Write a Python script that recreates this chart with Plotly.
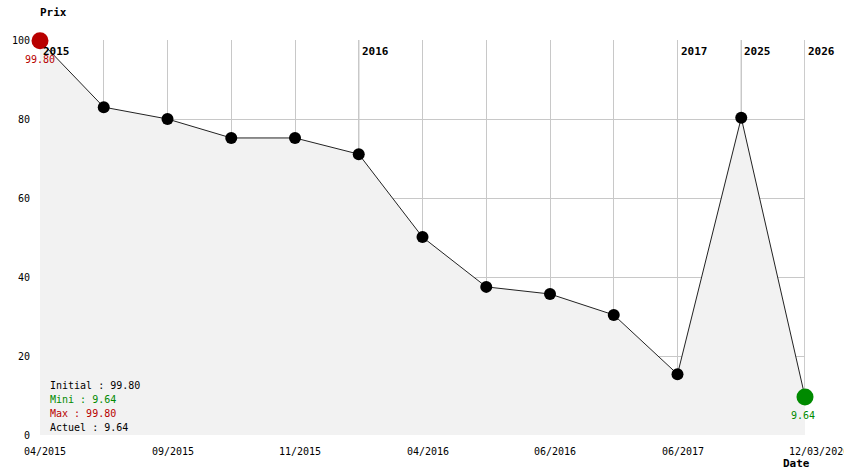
import plotly.graph_objects as go

# ---- data ----
values = [99.80, 83.0, 80.0, 75.2, 75.2, 71.1, 50.1, 37.5, 35.7, 30.4, 15.4, 80.3, 9.64]
x_label_idx = [0, 2, 4, 6, 8, 10, 12]
x_labels = ["04/2015", "09/2015", "11/2015", "04/2016", "06/2016", "06/2017", "12/03/2026"]
year_idx = [0, 5, 10, 11, 12]
year_labels = ["2015", "2016", "2017", "2025", "2026"]
y_ticks = [0, 20, 40, 60, 80, 100]

idx = list(range(len(values)))
initial = values[0]
current = values[-1]
vmin = min(values)
vmax = max(values)

FONT = "DejaVu Sans Mono"
RED = "#b80000"
GREEN = "#008a00"

fig = go.Figure()

fig.add_trace(go.Scatter(
    x=idx, y=values, mode="lines+markers",
    line=dict(color="#222222", width=1),
    fill="tozeroy", fillcolor="#f2f2f2",
    marker=dict(color="black", size=12),
    cliponaxis=False, hoverinfo="skip", showlegend=False,
))

# highlighted start / end markers
fig.add_trace(go.Scatter(
    x=[idx[0]], y=[values[0]], mode="markers",
    marker=dict(color=RED, size=17), cliponaxis=False,
    hoverinfo="skip", showlegend=False,
))
fig.add_trace(go.Scatter(
    x=[idx[-1]], y=[values[-1]], mode="markers",
    marker=dict(color=GREEN, size=17), cliponaxis=False,
    hoverinfo="skip", showlegend=False,
))

shapes = []
for i in year_idx:
    shapes.append(dict(type="line", xref="x", yref="paper", x0=i, x1=i, y0=0, y1=1,
                       line=dict(color="#999999", width=1), layer="below"))

ann = []
for i, lab in zip(x_label_idx, x_labels):
    ann.append(dict(x=i, y=0, xref="x", yref="paper", text=lab, showarrow=False,
                    xanchor="left", yanchor="middle", xshift=-18, yshift=-16,
                    font=dict(family=FONT, size=10, color="black")))
for i, lab in zip(year_idx, year_labels):
    ann.append(dict(x=i, y=1, xref="x", yref="paper", text="<b>%s</b>" % lab, showarrow=False,
                    xanchor="left", yanchor="middle", xshift=1, yshift=-11,
                    font=dict(family=FONT, size=11, color="black")))

ann.append(dict(x=0, y=1, xref="paper", yref="paper", text="<b>Prix</b>", showarrow=False,
                xanchor="left", yanchor="middle", xshift=-2, yshift=28,
                font=dict(family=FONT, size=11, color="black")))
ann.append(dict(x=1, y=0, xref="paper", yref="paper", text="<b>Date</b>", showarrow=False,
                xanchor="left", yanchor="middle", xshift=-24, yshift=-28,
                font=dict(family=FONT, size=11, color="black")))

ann.append(dict(x=idx[0], y=values[0], xref="x", yref="y", text="%.2f" % initial, showarrow=False,
                xanchor="center", yanchor="middle", yshift=-19,
                font=dict(family=FONT, size=10, color=RED)))
ann.append(dict(x=idx[-1], y=values[-1], xref="x", yref="y", text="%.2f" % current, showarrow=False,
                xanchor="center", yanchor="middle", yshift=-19, xshift=-2,
                font=dict(family=FONT, size=10, color=GREEN)))

legend_lines = [("Initial : %.2f" % initial, "black"),
                ("Mini : %.2f" % vmin, GREEN),
                ("Max : %.2f" % vmax, RED),
                ("Actuel : %.2f" % current, "black")]
for k, (txt, col) in enumerate(legend_lines):
    ann.append(dict(x=0, y=0, xref="paper", yref="paper", text=txt, showarrow=False,
                    xanchor="left", yanchor="middle", xshift=8, yshift=50 - k * 14.2,
                    font=dict(family=FONT, size=10, color=col)))

fig.update_layout(
    width=844, height=474,
    margin=dict(l=40, r=39, t=40, b=39),
    paper_bgcolor="white", plot_bgcolor="white",
    font=dict(family=FONT, size=10, color="black"),
    shapes=shapes, annotations=ann,
    hovermode=False,
)
fig.update_xaxes(range=[0, 12], tickvals=idx, showticklabels=False,
                 showgrid=True, gridcolor="#c8c8c8", gridwidth=1,
                 zeroline=False, showline=False, ticks="")
fig.update_yaxes(range=[0, 100], tickvals=y_ticks, showgrid=True,
                 gridcolor="#c8c8c8", gridwidth=1, zeroline=False, showline=False,
                 ticks="", ticklabelstandoff=9,
                 tickfont=dict(family=FONT, size=10, color="black"))

fig.write_html("out.html", config={"displayModeBar": False},
               post_script="document.body.style.margin='0';document.body.style.overflow='hidden';")
